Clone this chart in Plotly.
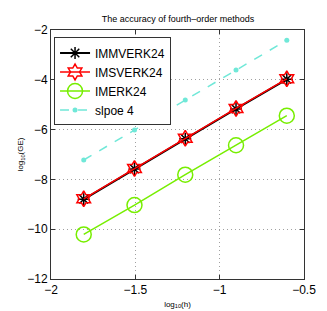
import plotly.graph_objects as go

log_h = [-1.806, -1.505, -1.204, -0.903, -0.602]
immverk24 = [-8.80, -7.58, -6.37, -5.17, -3.98]
imsverk24 = [-8.78, -7.56, -6.35, -5.15, -3.96]
imerk24 = [-10.21, -9.03, -7.81, -6.63, -5.44]
slope4 = [-7.22, -6.02, -4.81, -3.61, -2.41]

x_ticks = [-2, -1.5, -1, -0.5]
x_tick_text = ["\u22122", "\u22121.5", "\u22121", "\u22120.5"]
y_ticks = [-12, -10, -8, -6, -4, -2]
y_tick_text = ["\u221212", "\u221210", "\u22128", "\u22126", "\u22124", "\u22122"]

fig = go.Figure()
fig.add_trace(go.Scatter(x=log_h, y=immverk24, name="IMMVERK24", mode="lines+markers",
                         line=dict(color="black", width=2),
                         marker=dict(symbol="asterisk-open", size=10, color="black",
                                     line=dict(color="black", width=1.5))))
fig.add_trace(go.Scatter(x=log_h, y=imsverk24, name="IMSVERK24", mode="lines+markers",
                         line=dict(color="#ff0000", width=1.5),
                         marker=dict(symbol="hexagram-open", size=12, color="#ff0000",
                                     line=dict(color="#ff0000", width=1.5))))
fig.add_trace(go.Scatter(x=log_h, y=imerk24, name="IMERK24", mode="lines+markers",
                         line=dict(color="#77ee00", width=1.5),
                         marker=dict(symbol="circle-open", size=15, color="#77ee00",
                                     line=dict(color="#77ee00", width=1.5))))
fig.add_trace(go.Scatter(x=log_h, y=slope4, name="slpoe 4", mode="lines+markers",
                         line=dict(color="#70e8d8", width=1.5, dash="dash"),
                         marker=dict(symbol="circle", size=5, color="#70e8d8")))

axis_common = dict(showline=True, linecolor="#333", linewidth=1, mirror="ticks",
                   ticks="inside", ticklen=4, tickcolor="#333",
                   showgrid=True, gridcolor="#a0a0a0", griddash="1px,3px", gridwidth=1,
                   zeroline=False, tickfont=dict(size=12, color="black"))

fig.update_layout(
    width=327, height=311,
    margin=dict(l=42, r=31, t=22, b=35),
    paper_bgcolor="white", plot_bgcolor="white",
    font=dict(family="Liberation Sans, Arial, sans-serif", color="black"),
    title=dict(text="The accuracy of fourth\u2013order methods", x=0.52, xanchor="center",
               y=0.965, yanchor="middle", font=dict(size=9)),
    showlegend=True,
    legend=dict(x=0.012, y=0.97, xanchor="left", yanchor="top",
                bgcolor="white", bordercolor="#333", borderwidth=1,
                font=dict(size=12), tracegroupgap=0, itemwidth=30),
    xaxis=dict(range=[-2, -0.5], tickvals=x_ticks, ticktext=x_tick_text,
               title=dict(text="log<sub>10</sub>(h)", font=dict(size=8), standoff=4),
               **axis_common),
    yaxis=dict(range=[-12, -2], tickvals=y_ticks, ticktext=y_tick_text,
               title=dict(text="log<sub>10</sub>(GE)", font=dict(size=8), standoff=2),
               **axis_common),
)

fig.write_html("out.html")
